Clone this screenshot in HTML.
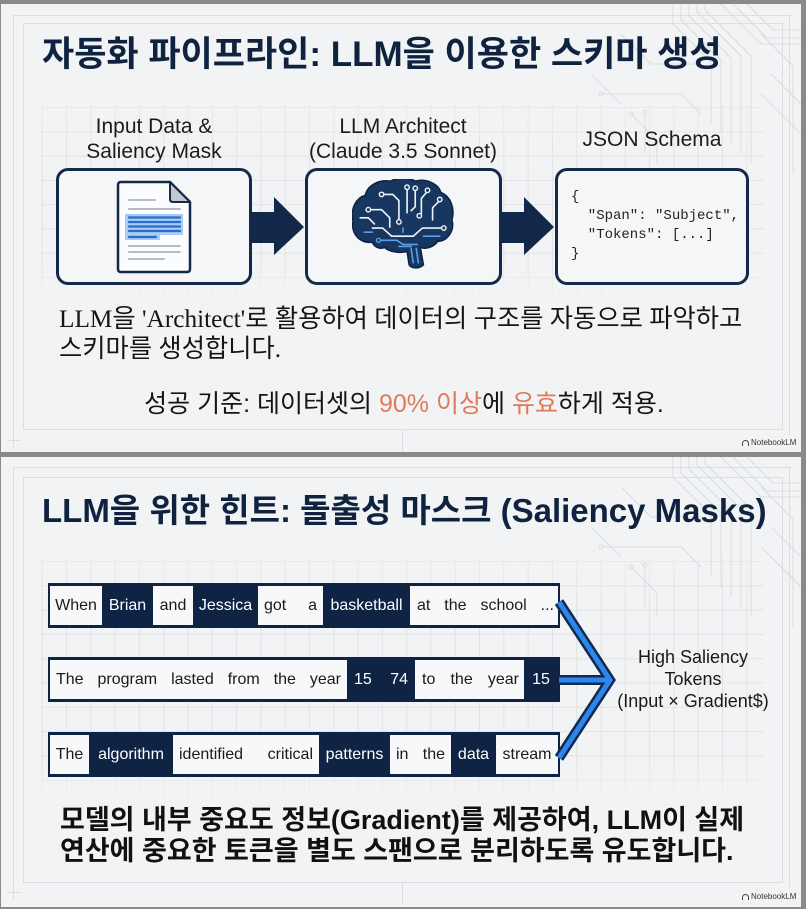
<!DOCTYPE html>
<html><head><meta charset="utf-8">
<style>
*{margin:0;padding:0;box-sizing:border-box;}
html,body{width:806px;height:909px;overflow:hidden;background:#8a8a8a;}
#root{position:relative;width:806px;height:909px;background:#8a8a8a;}
.slide{position:absolute;left:1px;width:800px;background:#f2f3f4;overflow:hidden;}
.abs{position:absolute;}
.grid{position:absolute;background-image:linear-gradient(to right,#e1e3e6 1px,transparent 1px),linear-gradient(to bottom,#e1e3e6 1px,transparent 1px);background-size:24.3px 24.3px;}
.fl{position:absolute;background:#dcdee1;}
.sans{font-family:"Liberation Sans","Noto Sans CJK KR",sans-serif;}
.title{position:absolute;font-family:"Liberation Sans","Noto Sans CJK KR",sans-serif;font-weight:700;color:#0f2340;white-space:nowrap;}
.lbl{position:absolute;font-family:"Liberation Sans","Noto Sans CJK KR",sans-serif;font-size:21px;line-height:25px;color:#1c1c1c;text-align:center;white-space:nowrap;}
.box{position:absolute;top:168px;height:117px;border:3px solid #15294a;border-radius:12px;background:#f5f6f7;}
.row{position:absolute;left:47px;width:512px;height:45px;background:#0f2444;display:flex;padding:3px 2px;}
.c{height:100%;display:flex;align-items:center;justify-content:center;font-family:"Liberation Sans",sans-serif;font-size:16px;white-space:nowrap;}
.w{background:#f7f8f9;color:#1a1a1a;}
.d{color:#ffffff;}
.sb{justify-content:space-between;padding:0 6px;}
.logo{position:absolute;font-family:"Liberation Sans",sans-serif;font-size:8px;color:#333;white-space:nowrap;}
</style></head>
<body><div id="root">

<!-- ================= SLIDE 1 ================= -->
<div class="slide" style="top:4px;height:448px;">
  <div class="fl" style="left:12px;top:11px;width:1px;height:420px;"></div>
  <div class="fl" style="left:12px;top:11px;width:778px;height:1px;"></div>
  <div class="fl" style="left:788px;top:11px;width:1px;height:420px;"></div>
  <div class="fl" style="left:22px;top:19px;width:1px;height:407px;"></div>
  <div class="fl" style="left:22px;top:19px;width:759px;height:1px;"></div>
  <div class="fl" style="left:781px;top:19px;width:1px;height:407px;"></div>
  <div class="fl" style="left:22px;top:425px;width:759px;height:1px;"></div>
  <div class="fl" style="left:6px;top:436px;width:14px;height:1px;"></div>
  <div class="fl" style="left:12px;top:430px;width:1px;height:14px;"></div>
  <div class="fl" style="left:401px;top:426px;width:1px;height:22px;"></div>
  <div class="grid" style="left:40px;top:101px;width:723px;height:200px;background-position:0.7px 2px;-webkit-mask-image:linear-gradient(to bottom,rgba(0,0,0,0.6),#000 30%,#000 75%,rgba(0,0,0,0));"></div>
  <svg class="abs" style="left:560px;top:0;" width="240" height="170" viewBox="0 0 240 170" fill="none" stroke="#d9dce0" stroke-width="1">
    <path d="M112 0 V20 L150 58 V120"/><path d="M120 0 V16 L160 56 V130"/><path d="M128 0 V12 L170 54 V140"/>
    <path d="M136 0 V8 L180 52 V150"/><path d="M144 0 V6 L190 52 V160"/><path d="M160 0 L200 40 H240"/>
    <path d="M172 0 L206 34 H240"/><path d="M186 0 L212 26 H240"/><path d="M200 30 L232 62 V170"/>
    <path d="M60 30 L90 60 H140"/><path d="M40 90 H120 L140 110"/><path d="M200 90 L240 130"/><path d="M210 70 L240 100"/>
    <path d="M70 110 L96 136 V160"/><path d="M84 110 V150"/><path d="M30 70 L60 100"/>
    <circle cx="40" cy="90" r="2"/><circle cx="70" cy="110" r="2"/><circle cx="84" cy="108" r="2"/>
  </svg>

  <div class="title" style="left:41px;top:30px;font-size:35px;line-height:42px;">자동화 파이프라인: LLM을 이용한 스키마 생성</div>

  <div class="lbl" style="left:53px;width:200px;top:110px;">Input Data &amp;<br>Saliency Mask</div>
  <div class="lbl" style="left:302px;width:200px;top:110px;">LLM Architect<br>(Claude 3.5 Sonnet)</div>
  <div class="lbl" style="left:551px;width:200px;top:123px;">JSON Schema</div>

  <div class="box" style="left:55px;width:196px;top:164px;"></div>
  <div class="box" style="left:304px;width:197px;top:164px;"></div>
  <div class="box" style="left:554px;width:194px;top:164px;"></div>

  <svg class="abs" style="left:0;top:0;" width="800" height="448">
    <polygon points="250,208 273,208 273,193 303,223 273,251 273,239 250,239" fill="#12284a"/>
    <polygon points="500,208 523,208 523,193 553,223 523,251 523,239 500,239" fill="#12284a"/>
  </svg>

  <svg class="abs" style="left:115px;top:176px;" width="76" height="94" viewBox="-2 -2 76 94">
    <path d="M3 0 H52 L72 20 V87 Q72 90 69 90 H3 Q0 90 0 87 V3 Q0 0 3 0 Z" fill="#fbfcfd" stroke="#15294a" stroke-width="2.5" stroke-linejoin="round"/>
    <path d="M52 0 V17 Q52 20 55 20 H72 Z" fill="#c3c8cf" stroke="#15294a" stroke-width="2" stroke-linejoin="round"/>
    <g stroke="#b8bcc2" stroke-width="2" stroke-linecap="round">
      <line x1="11" y1="18" x2="37" y2="18"/><line x1="11" y1="27" x2="62" y2="27"/>
      <line x1="11" y1="64" x2="62" y2="64"/><line x1="11" y1="70" x2="62" y2="70"/><line x1="11" y1="77" x2="46" y2="77"/>
    </g>
    <path d="M7 32 H65 V53 H42 V58 H7 Z" fill="#a9cbf3"/>
    <g stroke="#2a6ccc" stroke-width="2.2" stroke-linecap="round">
      <line x1="11" y1="35.5" x2="62" y2="35.5"/><line x1="11" y1="40" x2="62" y2="40"/>
      <line x1="11" y1="44.5" x2="62" y2="44.5"/><line x1="11" y1="49" x2="62" y2="49"/><line x1="11" y1="55" x2="38" y2="55"/>
    </g>
  </svg>

  <svg class="abs" style="left:351px;top:175px;" width="102" height="92" viewBox="0 0 100 90">
    <path d="M20 62 C6 63 -1 52 1 41 C-2 28 5 18 13 16 C15 6 27 0 38 2 C44 -2 56 -2 62 2 C73 -1 85 5 87 13 C97 17 101 29 98 40 C101 51 93 61 84 61 C80 67 72 69 67 67 L70 84 C66 88 58 88 56 84 L54 71 C46 73 36 71 32 67 C28 69 22 67 20 62 Z" fill="#173660" stroke="#0e2242" stroke-width="1.5"/>
    <g fill="none" stroke="#eef3f9" stroke-width="1.6" stroke-linecap="round" stroke-linejoin="round">
      <path d="M18 30 H29 L37 38 V47"/><path d="M31 15 H40 L46 21 V40"/><path d="M54 10 V33"/>
      <path d="M62 11 V27 L58 31"/><path d="M73 13 L68 19 V34"/><path d="M85 22 L79 28 V40"/>
      <path d="M20 48 H30 L39 56 H60 L69 48 H88"/><path d="M8 38 H16 L22 44"/>
    </g>
    <g fill="#173660" stroke="#eef3f9" stroke-width="1.4">
      <circle cx="16" cy="30" r="2.2"/><circle cx="29" cy="15" r="2.2"/><circle cx="54" cy="8" r="2.2"/>
      <circle cx="62" cy="9" r="2.2"/><circle cx="74" cy="11" r="2.2"/><circle cx="86" cy="20" r="2.2"/>
      <circle cx="90" cy="48" r="2.2"/><circle cx="46" cy="42" r="2.2"/><circle cx="66" cy="36" r="2.2"/>
    </g>
    <g fill="none" stroke="#5d9de6" stroke-width="1.6" stroke-linecap="round">
      <path d="M28 60 H44 L50 64 H64"/><path d="M46 66 H58"/><path d="M58 68 L60 82"/><path d="M63 68 L65 82"/>
      <path d="M70 56 H86"/><path d="M12 52 H20"/><path d="M50 48 V52"/>
    </g>
    <circle cx="26" cy="60" r="2" fill="#173660" stroke="#5d9de6" stroke-width="1.3"/>
  </svg>

  <div class="abs" style="left:570px;top:184px;font-family:'Liberation Mono',monospace;font-size:14px;line-height:19px;color:#222;white-space:pre;">{
  "Span": "Subject",
  "Tokens": [...]
}</div>

  <div class="abs" style="left:58px;top:300px;font-family:'Liberation Serif','Noto Sans CJK KR',serif;font-size:25.3px;line-height:30px;color:#151515;white-space:nowrap;">LLM을 'Architect'로 활용하여 데이터의 구조를 자동으로 파악하고<br>스키마를 생성합니다.</div>

  <div class="abs sans" style="left:0;width:806px;top:385px;text-align:center;font-size:25px;line-height:30px;color:#151515;white-space:nowrap;">성공 기준: 데이터셋의 <span style="color:#e07a5a;">90% 이상</span>에 <span style="color:#e07a5a;">유효</span>하게 적용.</div>

  <div class="logo" style="left:741px;top:434px;"><span style="display:inline-block;width:7px;height:6px;border:1.2px solid #444;border-bottom:none;border-radius:4px 4px 0 0;margin-right:2px;vertical-align:-1px;"></span>NotebookLM</div>
</div>

<!-- ================= SLIDE 2 ================= -->
<div class="slide" style="top:457px;height:450px;">
  <div class="fl" style="left:12px;top:10px;width:1px;height:420px;"></div>
  <div class="fl" style="left:12px;top:10px;width:778px;height:1px;"></div>
  <div class="fl" style="left:788px;top:10px;width:1px;height:420px;"></div>
  <div class="fl" style="left:22px;top:20px;width:1px;height:406px;"></div>
  <div class="fl" style="left:22px;top:20px;width:759px;height:1px;"></div>
  <div class="fl" style="left:781px;top:20px;width:1px;height:406px;"></div>
  <div class="fl" style="left:22px;top:425px;width:759px;height:1px;"></div>
  <div class="fl" style="left:6px;top:435px;width:14px;height:1px;"></div>
  <div class="fl" style="left:12px;top:429px;width:1px;height:14px;"></div>
  <div class="fl" style="left:401px;top:426px;width:1px;height:22px;"></div>

  <div class="grid" style="left:40px;top:101px;width:723px;height:250px;background-position:0.7px 3px;-webkit-mask-image:linear-gradient(to bottom,rgba(0,0,0,0.6),#000 15%,#000 80%,rgba(0,0,0,0));"></div>

  <svg class="abs" style="left:560px;top:0;" width="240" height="170" viewBox="0 0 240 170" fill="none" stroke="#d9dce0" stroke-width="1">
    <path d="M112 0 V20 L150 58 V120"/><path d="M120 0 V16 L160 56 V130"/><path d="M128 0 V12 L170 54 V140"/>
    <path d="M136 0 V8 L180 52 V150"/><path d="M144 0 V6 L190 52 V160"/><path d="M160 0 L200 40 H240"/>
    <path d="M172 0 L206 34 H240"/><path d="M186 0 L212 26 H240"/><path d="M200 30 L232 62 V170"/>
    <path d="M60 30 L90 60 H140"/><path d="M40 90 H120 L140 110"/><path d="M200 90 L240 130"/><path d="M210 70 L240 100"/>
    <path d="M70 110 L96 136 V160"/><path d="M84 110 V150"/><path d="M30 70 L60 100"/>
    <circle cx="40" cy="90" r="2"/><circle cx="70" cy="110" r="2"/><circle cx="84" cy="108" r="2"/>
  </svg>

  <div class="title" style="left:41px;top:33px;font-size:33px;line-height:42px;">LLM을 위한 힌트: 돌출성 마스크 (Saliency Masks)</div>

  <div class="row" style="top:126px;">
    <div class="c w" style="width:52px;">When</div>
    <div class="c d" style="width:51px;">Brian</div>
    <div class="c w" style="width:40px;">and</div>
    <div class="c d" style="width:65px;">Jessica</div>
    <div class="c w sb" style="width:65px;"><span>got</span><span>a</span></div>
    <div class="c d" style="width:87px;">basketball</div>
    <div class="c w sb" style="width:148px;padding:0 4px 0 7px;"><span>at</span><span>the</span><span>school</span><span>...</span></div>
  </div>
  <div class="row" style="top:200px;">
    <div class="c w sb" style="width:297px;"><span>The</span><span>program</span><span>lasted</span><span>from</span><span>the</span><span>year</span></div>
    <div class="c d sb" style="width:68px;padding:0 7px;"><span>15</span><span>74</span></div>
    <div class="c w sb" style="width:109px;padding:0 5px 0 7px;"><span>to</span><span>the</span><span>year</span></div>
    <div class="c d" style="width:34px;">15</div>
  </div>
  <div class="row" style="top:275px;">
    <div class="c w" style="width:39px;">The</div>
    <div class="c d" style="width:84px;">algorithm</div>
    <div class="c w sb" style="width:146px;"><span>identified</span><span>critical</span></div>
    <div class="c d" style="width:71px;">patterns</div>
    <div class="c w sb" style="width:61px;"><span>in</span><span>the</span></div>
    <div class="c d" style="width:45px;">data</div>
    <div class="c w" style="width:62px;">stream</div>
  </div>

  <svg class="abs" style="left:0;top:0;" width="800" height="450">
    <g fill="none" stroke-linejoin="miter" stroke-linecap="butt">
      <path d="M558 145 L609 223 L558 301" stroke="#0e2a55" stroke-width="10"/>
      <path d="M558 223 H609" stroke="#0e2a55" stroke-width="10"/>
      <path d="M558 145 L609 223 L558 301" stroke="#2f86e8" stroke-width="5"/>
      <path d="M558 223 H607" stroke="#2f86e8" stroke-width="5"/>
    </g>
  </svg>

  <div class="abs sans" style="left:592px;width:200px;top:189px;text-align:center;font-size:18px;line-height:22px;color:#1a1a1a;white-space:nowrap;">High Saliency<br>Tokens<br>(Input × Gradient$)</div>

  <div class="abs sans" style="left:59px;top:348px;font-size:27px;line-height:31px;font-weight:700;color:#111;white-space:nowrap;">모델의 내부 중요도 정보(Gradient)를 제공하여, LLM이 실제<br>연산에 중요한 토큰을 별도 스팬으로 분리하도록 유도합니다.</div>

  <div class="logo" style="left:741px;top:435px;"><span style="display:inline-block;width:7px;height:6px;border:1.2px solid #444;border-bottom:none;border-radius:4px 4px 0 0;margin-right:2px;vertical-align:-1px;"></span>NotebookLM</div>
</div>

</div></body></html>
